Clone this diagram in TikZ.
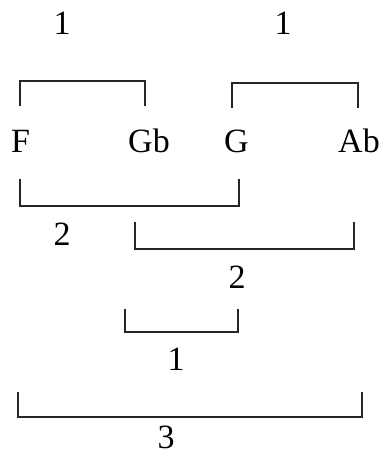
\documentclass[tikz,border=0pt]{standalone}
\usepackage{fontspec}
\setmainfont{Liberation Serif}
\usetikzlibrary{positioning}

\begin{document}
\begin{tikzpicture}[x=1pt, y=-1pt,
  note/.style={inner sep=0pt, anchor=base, font=\fontsize{34}{40}\selectfont},
  span/.style={draw=black!85, line width=1.2pt}]

  \useasboundingbox (0,0) rectangle (382,454);

  % Define nodes
  \node[note] (f)  at (20.5,153) {F};
  \node[note] (gb) at (149,153)  {Gb};
  \node[note] (g)  at (236.5,153) {G};
  \node[note] (ab) at (359,153)  {Ab};

  % Interval sizes
  \node[note] (n_fgb)  at (62,35)   {1};
  \node[note] (n_gab)  at (283,35)  {1};
  \node[note] (n_fg)   at (62,245)  {2};
  \node[note] (n_gbab) at (237,288) {2};
  \node[note] (n_gbg)  at (176,370) {1};
  \node[note] (n_fab)  at (166,448) {3};

  % Bracket ends
  \coordinate (fgb_l)  at (20,106);  \coordinate (fgb_r)  at (145,106);
  \coordinate (gab_l)  at (232,108); \coordinate (gab_r)  at (358,108);
  \coordinate (fg_l)   at (20,179);  \coordinate (fg_r)   at (239,179);
  \coordinate (gbab_l) at (135,222); \coordinate (gbab_r) at (354,222);
  \coordinate (gbg_l)  at (125,309); \coordinate (gbg_r)  at (238,309);
  \coordinate (fab_l)  at (18,392);  \coordinate (fab_r)  at (362,392);

  % Connect the nodes
  \draw[span] (fgb_l) -- ++(0,-25) -| (fgb_r);
  \draw[span] (gab_l) -- ++(0,-25) -| (gab_r);
  \draw[span] (fg_l) -- ++(0,27) -| (fg_r);
  \draw[span] (gbab_l) -- ++(0,27) -| (gbab_r);
  \draw[span] (gbg_l) -- ++(0,23) -| (gbg_r);
  \draw[span] (fab_l) -- ++(0,25) -| (fab_r);

\end{tikzpicture}
\end{document}
